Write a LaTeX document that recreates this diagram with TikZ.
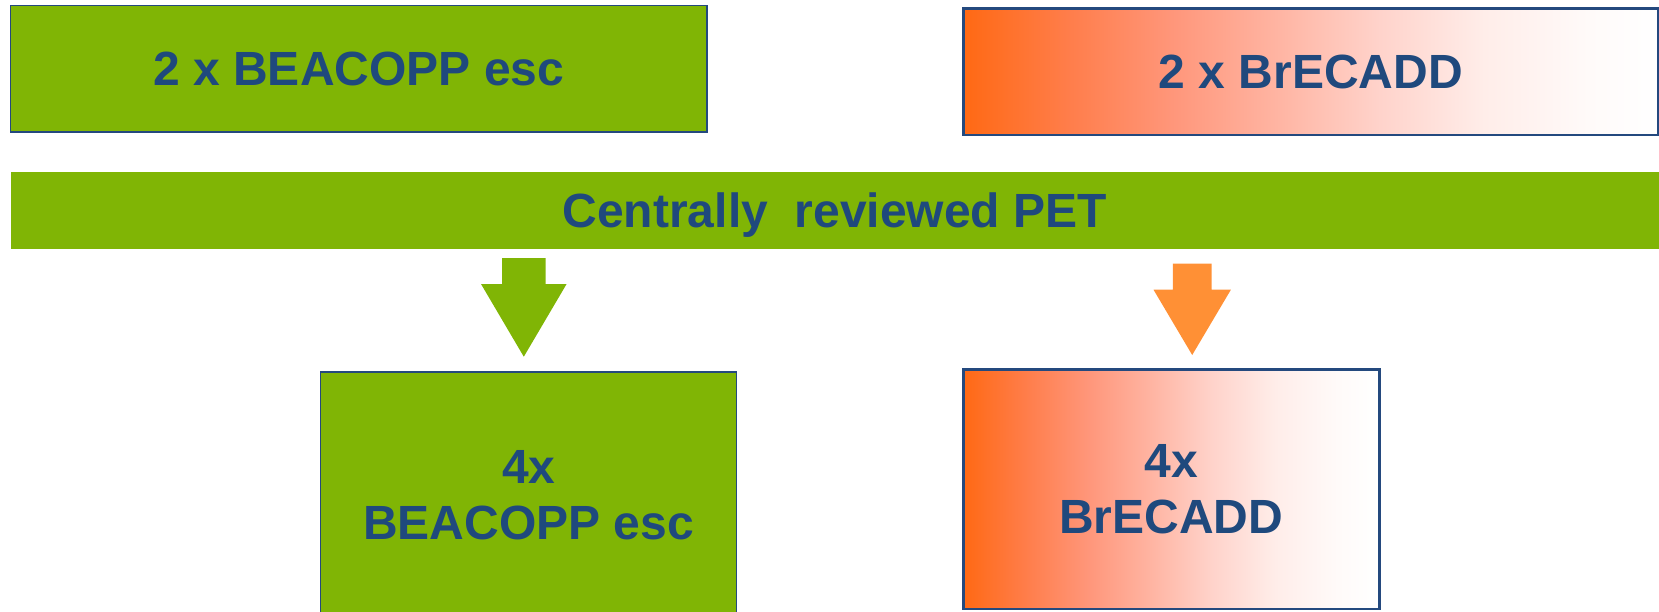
\documentclass[tikz,border=0pt]{standalone}
\usepackage{fontspec}
\setmainfont{Liberation Sans}
\definecolor{escgreen}{HTML}{80B505}
\definecolor{edgeblue}{HTML}{24497E}
\definecolor{txtblue}{HTML}{1F497D}
\definecolor{arrorange}{HTML}{FF9035}
\definecolor{brA}{HTML}{FF6914}
\definecolor{brB}{HTML}{FF7D4A}
\definecolor{brC}{HTML}{FF967A}
\definecolor{brD}{HTML}{FFB4A2}
\definecolor{brE}{HTML}{FFD3CB}
\definecolor{brF}{HTML}{FFEDE9}
\definecolor{brG}{HTML}{FFFAF9}
\pgfdeclarehorizontalshading{brecshade}{100bp}{color(0bp)=(brA); color(25bp)=(brA);
  color(32.5bp)=(brB); color(40bp)=(brC); color(47.5bp)=(brD); color(55bp)=(brE);
  color(62.5bp)=(brF); color(70bp)=(brG); color(75bp)=(white); color(100bp)=(white)}
\begin{document}
\begin{tikzpicture}[x=0.5pt,y=-0.5pt,
		every node/.style={inner sep=0pt,align=center,text=txtblue,
			font=\bfseries\fontsize{24}{28}\selectfont},
		escbox/.style={fill=escgreen,draw=edgeblue,line width=0.7pt},
		brecbox/.style={shading=brecshade,draw=edgeblue,line width=1.2pt}]
	\useasboundingbox (0,0) rectangle (1659,611);
	\clip (0,0) rectangle (1659,611);
	% first cycles
	\node [escbox,minimum width=348.25pt,minimum height=63.25pt] (esc2) at (358.75,68.75) {2 x BEACOPP esc};
	\node [brecbox,minimum width=347.25pt,minimum height=63.25pt] (brec2) at (1310.75,71.75) {2 x BrECADD};
	% PET bar
	\node [fill=escgreen,text depth=0pt,minimum width=824.25pt,minimum height=38.35pt] (pet) at (834.75,210.6) {Centrally\ \ reviewed PET};
	% block arrows
	\fill [escgreen] (502.1,258) -- (545.5,258) -- (545.5,284) -- (566.6,284)
		-- (523.8,356.7) -- (481,284) -- (502.1,284) -- cycle;
	\fill [arrorange] (1172.8,263.7) -- (1211.6,263.7) -- (1211.6,289.7) -- (1230.9,289.7)
		-- (1192.2,355) -- (1153.5,289.7) -- (1172.8,289.7) -- cycle;
	% further cycles
	\node [escbox,minimum width=208pt,minimum height=123pt] (esc4) at (528.7,495) {4x\\BEACOPP esc};
	\node [brecbox,minimum width=208pt,minimum height=119.85pt] (brec4) at (1171.3,489.2) {4x\\BrECADD};
\end{tikzpicture}
\end{document}
